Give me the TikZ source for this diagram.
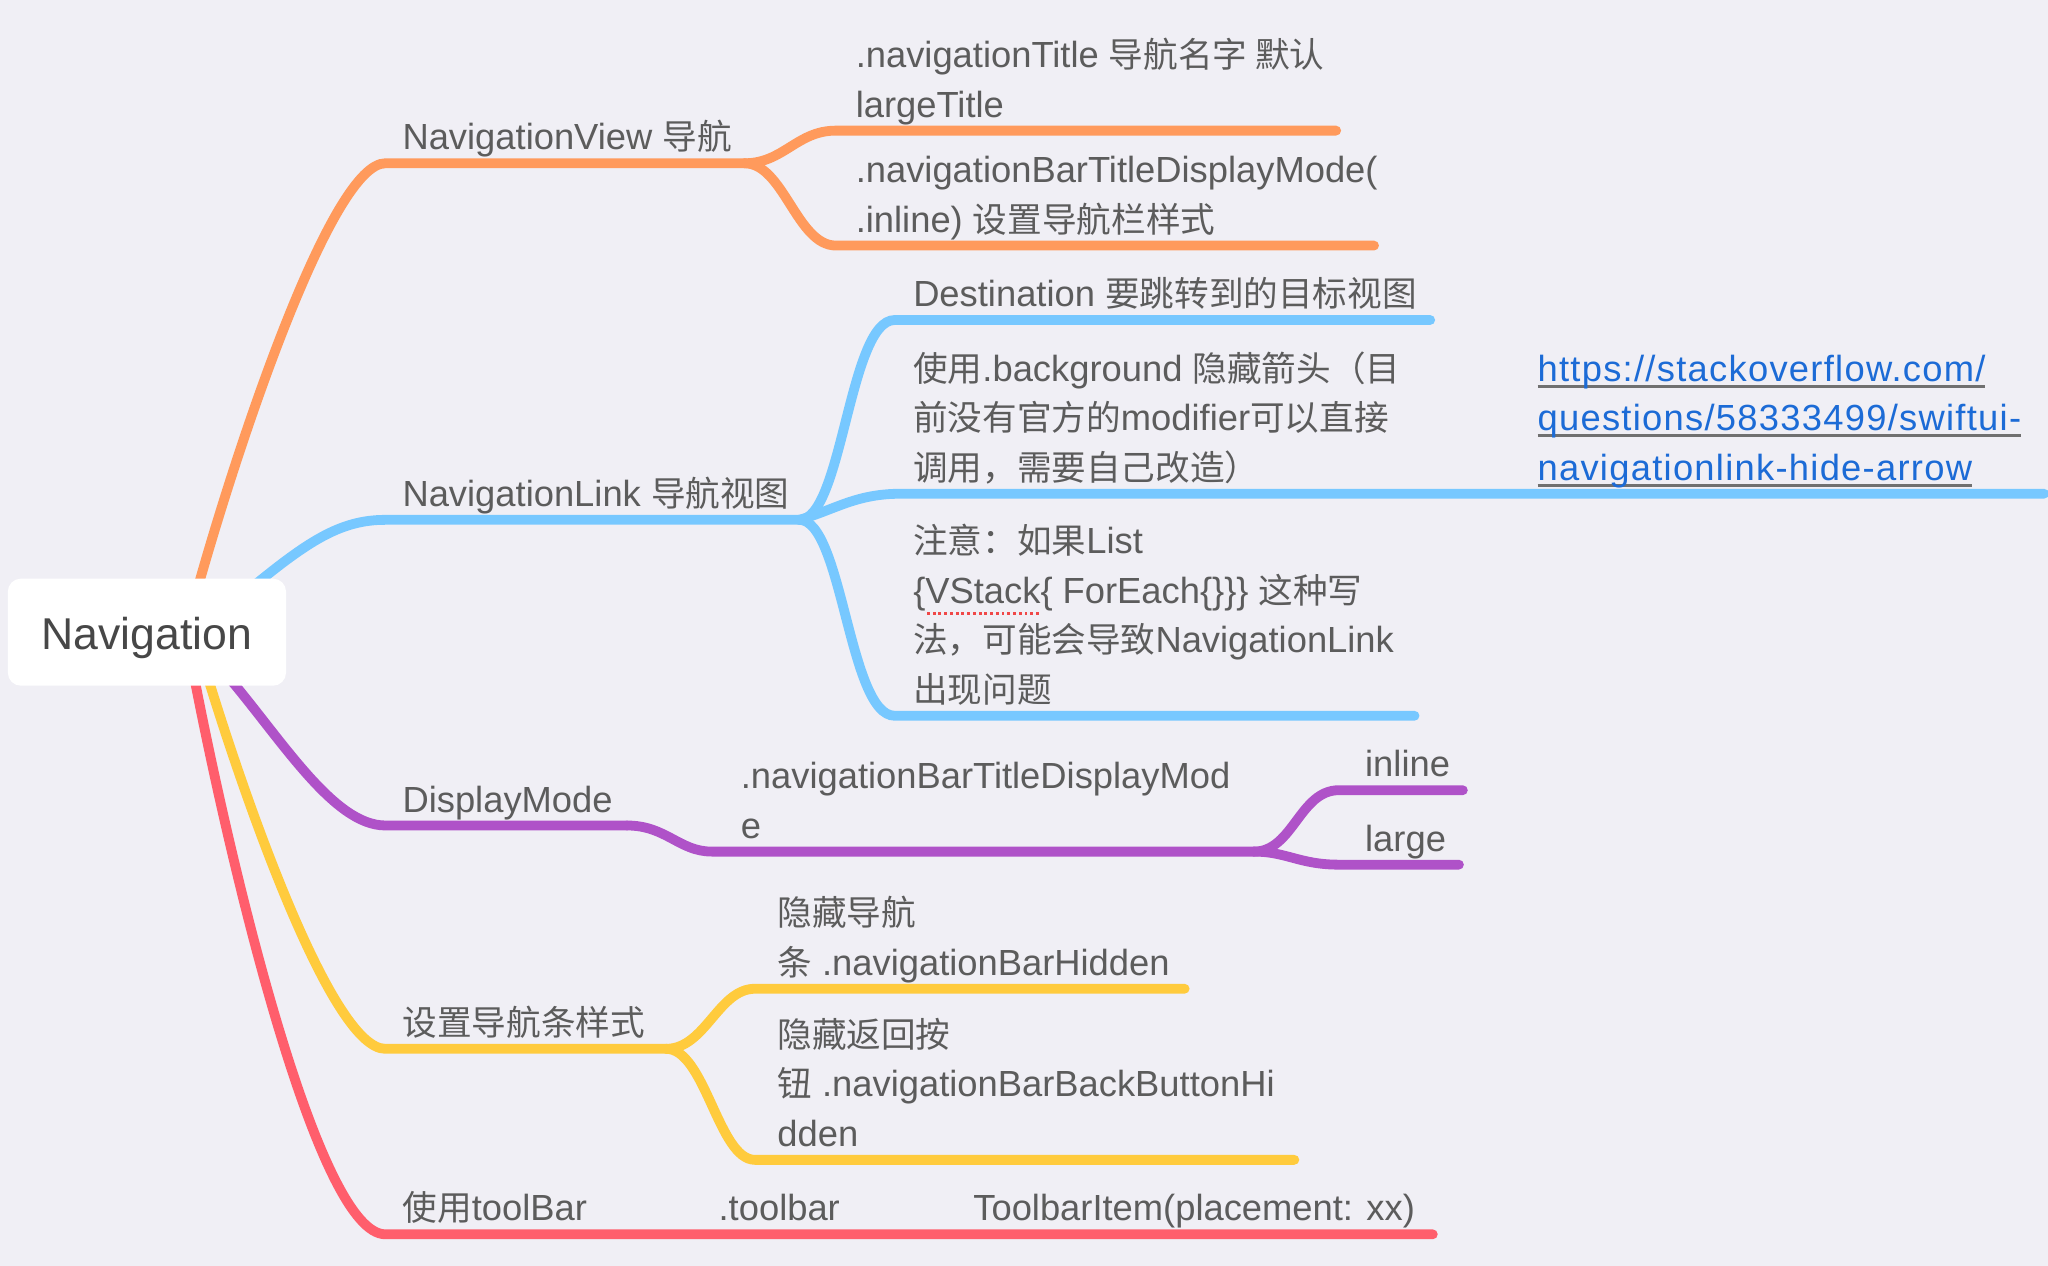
\documentclass[tikz,border=0pt]{standalone}
\usepackage{fontspec}
\setmainfont{Liberation Sans}[Scale=1.05]
\newfontfamily\cjk{Noto Sans CJK SC}
\newcommand{\zh}[1]{{\cjk #1}}
\newsavebox\ulbox
\newcommand{\grayul}[1]{\sbox\ulbox{#1}\rlap{\color{ulgray}\rule[-5pt]{\wd\ulbox}{2.2pt}}\usebox\ulbox}
\newcommand{\spellmark}[1]{\sbox\ulbox{#1}\rlap{\color{spellred}\raisebox{-9pt}{\hbox to \wd\ulbox{\xleaders\hbox to 4.2pt{\hss\rule{2.2pt}{2.2pt}\hss}\hfill}}}\usebox\ulbox}

\definecolor{bg}{HTML}{F0EFF5}
\definecolor{txt}{HTML}{5C5C5C}
\definecolor{roottxt}{HTML}{474747}
\definecolor{cview}{HTML}{FF9A5C}
\definecolor{clink}{HTML}{77C8FF}
\definecolor{cmode}{HTML}{AF52C8}
\definecolor{cstyle}{HTML}{FFCB3D}
\definecolor{ctool}{HTML}{FF5E6C}
\definecolor{urlblue}{HTML}{1C6BD6}
\definecolor{ulgray}{HTML}{707070}
\definecolor{spellred}{HTML}{F04848}

\begin{document}
\begin{tikzpicture}[x=1pt,y=-1pt,
  branch/.style={line width=7.5pt,line cap=round},
  lbl/.style={anchor=south west,inner sep=0pt,text depth=0pt,align=left,
    text=txt,font=\fontsize{26.5}{38}\selectfont},
  rootbox/.style={fill=white,rounded corners=10pt,minimum width=213pt,
    minimum height=82pt,text height=30pt,text depth=4pt,text=roottxt,
    font=\fontsize{32.5}{40}\selectfont}]

% Page and background
\fill[bg] (0,0) rectangle (1568,969);
\useasboundingbox (0,0) rectangle (1568,969);

% Start points of the main branches (hidden under the root box)
\coordinate (r-view) at (150,455);
\coordinate (r-link) at (190,452);
\coordinate (r-mode) at (172,515);
\coordinate (r-style) at (158,515);
\coordinate (r-tool) at (148,515);

% Underline ends
\coordinate (view-s) at (295,125);
\coordinate (view-e) at (570,125);
\coordinate (title-s) at (640,100);
\coordinate (title-e) at (1023,100);
\coordinate (bmode-s) at (640,188);
\coordinate (bmode-e) at (1052,188);

\coordinate (link-s) at (295,398);
\coordinate (link-e) at (612,398);
\coordinate (dest-s) at (685,245);
\coordinate (dest-e) at (1095,245);
\coordinate (bghide-s) at (690,378);
\coordinate (bghide-e) at (1160,378);
\coordinate (url-e) at (1565,378);
\coordinate (note-s) at (685,548);
\coordinate (note-e) at (1083,548);

\coordinate (dmode-s) at (295,632);
\coordinate (dmode-e) at (480,632);
\coordinate (navmod-s) at (545,652);
\coordinate (navmod-e) at (960,652);
\coordinate (inl-s) at (1025,605);
\coordinate (inl-e) at (1120,605);
\coordinate (lrg-s) at (1025,662);
\coordinate (lrg-e) at (1117,662);

\coordinate (bstyle-s) at (295,803);
\coordinate (bstyle-e) at (510,803);
\coordinate (hidebar-s) at (578,757);
\coordinate (hidebar-e) at (907,757);
\coordinate (hideback-s) at (578,888);
\coordinate (hideback-e) at (991,888);

\coordinate (tbar-s) at (295,945);
\coordinate (tbar-e) at (540,945);
\coordinate (toolbar-e) at (735,945);
\coordinate (tbitem-e) at (1097,945);

% NavigationView branch
\draw[branch,cview] (r-view) .. controls (185,330) and (255,125) .. (view-s) -- (view-e);
\draw[branch,cview] (view-e) .. controls (600,125) and (610,100) .. (title-s) -- (title-e);
\draw[branch,cview] (view-e) .. controls (600,125) and (610,188) .. (bmode-s) -- (bmode-e);

% NavigationLink branch
\draw[branch,clink] (r-link) .. controls (235,415) and (260,398) .. (link-s) -- (link-e);
\draw[branch,clink] (link-e) .. controls (645,398) and (650,245) .. (dest-s) -- (dest-e);
\draw[branch,clink] (link-e) .. controls (640,390) and (655,378) .. (bghide-s) -- (bghide-e) -- (url-e);
\draw[branch,clink] (link-e) .. controls (645,398) and (650,548) .. (note-s) -- (note-e);

% DisplayMode branch
\draw[branch,cmode] (r-mode) .. controls (215,565) and (255,632) .. (dmode-s) -- (dmode-e);
\draw[branch,cmode] (dmode-e) .. controls (510,632) and (520,652) .. (navmod-s) -- (navmod-e);
\draw[branch,cmode] (navmod-e) .. controls (990,652) and (995,605) .. (inl-s) -- (inl-e);
\draw[branch,cmode] (navmod-e) .. controls (985,652) and (995,662) .. (lrg-s) -- (lrg-e);

% style branch
\draw[branch,cstyle] (r-style) .. controls (190,620) and (255,803) .. (bstyle-s) -- (bstyle-e);
\draw[branch,cstyle] (bstyle-e) .. controls (540,803) and (550,757) .. (hidebar-s) -- (hidebar-e);
\draw[branch,cstyle] (bstyle-e) .. controls (540,803) and (550,888) .. (hideback-s) -- (hideback-e);

% toolBar branch
\draw[branch,ctool] (r-tool) .. controls (180,680) and (245,945) .. (tbar-s) -- (tbar-e) -- (toolbar-e) -- (tbitem-e);

% Root
\node[rootbox] (root) at (112.5,484) {Navigation};

% Labels
\node[lbl] (view) at (308,115) {NavigationView \zh{导航}};
\node[lbl] (title) at (655,90) {.navigationTitle \zh{导航名字 默认}\\largeTitle};
\node[lbl] (bmode) at (655,178) {.navigationBarTitleDisplayMode(\\.inline) \zh{设置导航栏样式}};

\node[lbl] (link) at (308,388) {NavigationLink \zh{导航视图}};
\node[lbl] (dest) at (699,235) {Destination \zh{要跳转到的目标视图}};
\node[lbl] (bghide) at (699,368) {\zh{使用}.background \zh{隐藏箭头（目}\\\zh{前没有官方的}modifier\zh{可以直接}\\\zh{调用，需要自己改造）}};
\node[lbl,text=urlblue,font=\fontsize{26.5}{38}\selectfont\addfontfeature{LetterSpace=3.5}] (url) at (1177,368) {\grayul{https://stackoverflow.com/}\\\grayul{questions/58333499/swiftui-}\\\grayul{navigationlink-hide-arrow}};
\node[lbl] (note) at (699,538) {\zh{注意：如果}List\\\{\spellmark{VStack}\{ ForEach\{\}\}\} \zh{这种写}\\\zh{法，可能会导致}NavigationLink\\\zh{出现问题}};

\node[lbl] (dmode) at (308,622) {DisplayMode};
\node[lbl] (navmod) at (567,642) {.navigationBarTitleDisplayMod\\e};
\node[lbl] (inl) at (1045,595) {inline};
\node[lbl] (lrg) at (1045,652) {large};

\node[lbl] (bstyle) at (308,793) {\zh{设置导航条样式}};
\node[lbl] (hidebar) at (595,747) {\zh{隐藏导航}\\\zh{条} .navigationBarHidden};
\node[lbl] (hideback) at (595,878) {\zh{隐藏返回按}\\\zh{钮} .navigationBarBackButtonHi\\dden};

\node[lbl] (tbar) at (308,935) {\zh{使用}toolBar};
\node[lbl] (toolbar) at (550,935) {.toolbar};
\node[lbl] (tbitem) at (745,935) {ToolbarItem(placement: xx)};

\end{tikzpicture}
\end{document}
